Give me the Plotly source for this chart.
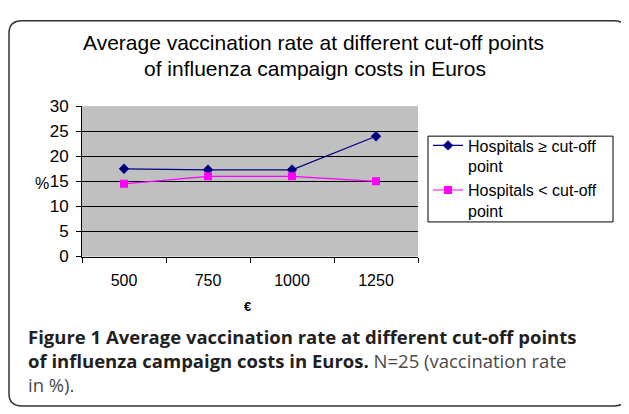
import plotly.graph_objects as go

categories = ["500", "750", "1000", "1250"]
above_cutoff = [17.5, 17.3, 17.3, 24.0]
below_cutoff = [14.5, 16.0, 16.0, 15.0]
series_names = ["Hospitals ≥ cut-off<br>point", "Hospitals < cut-off<br>point"]

# the page body has an 8px margin, so the figure is drawn at (8,8)
OFF = 8
W, H = 629 - OFF, 414 - OFF
def px(x): return (x - OFF) / W
def py(y): return 1 - (y - OFF) / H

fig = go.Figure()
fig.add_trace(go.Scatter(x=categories, y=above_cutoff, name=series_names[0], mode="lines+markers",
                         line=dict(color="#000080", width=1.2),
                         marker=dict(symbol="diamond", size=8, color="#000080")))
fig.add_trace(go.Scatter(x=categories, y=below_cutoff, name=series_names[1], mode="lines+markers",
                         line=dict(color="#FF00FF", width=1.2),
                         marker=dict(symbol="square", size=8, color="#FF00FF")))

# rounded outer frame
x0, y0, x1, y1, r = 9, 12, 627, 416, 13
path = (f"M {px(x0)},{py(y0+r)} Q {px(x0)},{py(y0)} {px(x0+r)},{py(y0)} "
        f"L {px(x1-r)},{py(y0)} Q {px(x1)},{py(y0)} {px(x1)},{py(y0+r)} "
        f"L {px(x1)},{py(y1-r)} Q {px(x1)},{py(y1)} {px(x1-r)},{py(y1)} "
        f"L {px(x0+r)},{py(y1)} Q {px(x0)},{py(y1)} {px(x0)},{py(y1-r)} Z")

shapes = [
    dict(type="path", path=path, xref="paper", yref="paper",
         line=dict(color="#333333", width=1.5), layer="below"),
    # legend box
    dict(type="rect", xref="paper", yref="paper", x0=px(428), x1=px(613), y0=py(223), y1=py(133),
         line=dict(color="black", width=1), layer="below"),
]

CAP = "Open Sans"
fig.update_layout(
    width=W, height=H, margin=dict(l=0, r=0, t=0, b=0),
    paper_bgcolor="white", plot_bgcolor="#C0C0C0",
    font=dict(family="Liberation Sans, Arial", size=16, color="black"),
    showlegend=True,
    legend=dict(x=px(428), y=py(125), xanchor="left", yanchor="top", valign="top",
                borderwidth=0, bgcolor="rgba(0,0,0,0)",
                font=dict(size=16), tracegroupgap=0, itemwidth=30),
    shapes=shapes,
    annotations=[
        dict(text="Average vaccination rate at different cut-off points",
             x=px(313.5), y=py(35), xref="paper", yref="paper", showarrow=False,
             xanchor="center", yanchor="middle", font=dict(size=21)),
        dict(text="of influenza campaign costs in Euros",
             x=px(314.5), y=py(62), xref="paper", yref="paper", showarrow=False,
             xanchor="center", yanchor="middle", font=dict(size=21)),
        dict(text="%", x=px(41.5), y=py(183), xref="paper", yref="paper", showarrow=False,
             xanchor="center", yanchor="middle", font=dict(size=16)),
        dict(text="<b>€</b>", x=px(247), y=py(312), xref="paper", yref="paper", showarrow=False,
             xanchor="center", yanchor="middle", font=dict(size=13)),
        dict(text="<b>Figure 1 Average vaccination rate at different cut-off points</b><br>"
                  "<b>of influenza campaign costs in Euros.</b>"
                  "<span style='color:#4a4a4a'> N=25 (vaccination rate</span><br>"
                  "<span style='color:#4a4a4a'>in %).</span>",
             x=px(26), y=py(328), xref="paper", yref="paper", showarrow=False,
             xanchor="left", yanchor="top", align="left",
             font=dict(family=CAP, size=18.5, color="#231F20")),
    ],
    xaxis=dict(domain=[px(82), px(418)], type="category", tickson="boundaries",
               ticks="outside", ticklen=5, tickcolor="black", showline=True, linecolor="black",
               showgrid=False, range=[-0.5, 3.5], tickfont=dict(size=16), ticklabelstandoff=9),
    yaxis=dict(domain=[py(259.3), py(101.5)], range=[0, 30], dtick=5, ticks="outside", ticklen=5,
               tickcolor="black", showline=True, linecolor="black", showgrid=True,
               gridcolor="black", gridwidth=1, tickfont=dict(size=17), zeroline=False,
               ticklabelstandoff=4),
)
fig.write_html("out.html")
